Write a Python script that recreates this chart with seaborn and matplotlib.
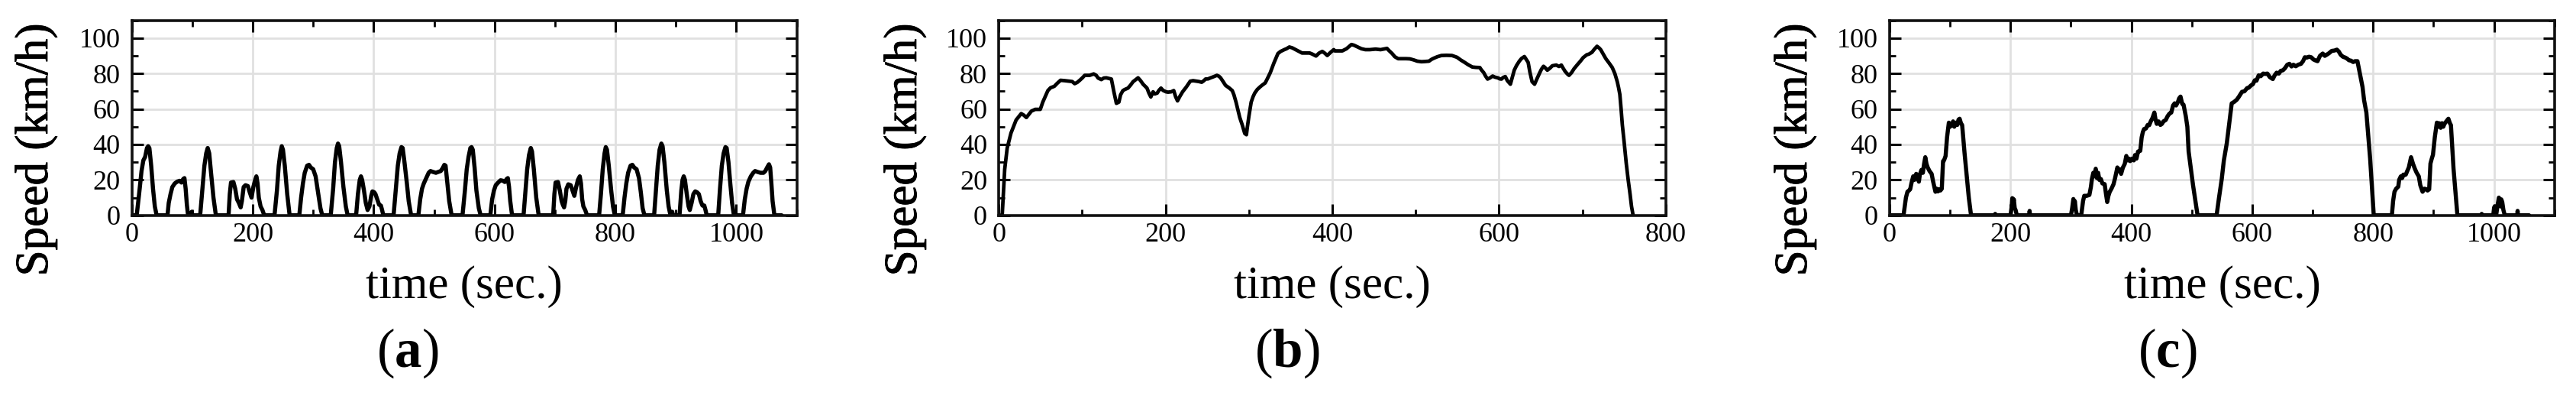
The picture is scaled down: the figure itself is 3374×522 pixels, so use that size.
import matplotlib
matplotlib.use("Agg")
import matplotlib.pyplot as plt
import matplotlib.patheffects as pe
import seaborn as sns
from matplotlib.ticker import MultipleLocator

# ---------------- data ----------------
panel_labels = ["a", "b", "c"]
x_limits = [1100, 800, 1100]
x_label = "time (sec.)"
y_label = "Speed (km/h)"

# (a) repeated urban cycle
time_a = [
    0, 8, 12, 16, 19, 22, 25, 27, 29, 32, 35, 38, 41,
    59, 61, 64, 67, 71, 75, 79, 82, 85, 87, 89, 91, 93,
    98, 99, 100,
    113, 116, 120, 123, 125.5, 128, 131, 135, 139,
    160, 162, 164, 168, 171, 174, 177, 180, 182, 185, 188, 192, 195, 198, 201, 204, 206, 208, 210, 213, 216, 219,
    236, 240, 243, 246, 248, 250, 253, 257, 261,
    277, 280, 283, 286, 290, 293, 296, 300, 304, 308, 312, 315,
    329, 333, 336, 339, 341, 343, 346, 350, 354, 357,
    371, 374, 377, 379, 381, 384, 387, 390, 393, 396, 398, 401, 403, 406, 409, 412, 414, 416,
    433, 437, 440, 443, 446, 448, 451, 455, 458, 462,
    474, 477, 480, 483, 487, 491, 494, 498, 503, 507, 511, 514, 517, 519, 522, 525, 529,
    547, 551, 554, 557, 560, 562, 564, 567, 570, 574, 577,
    593, 596, 599, 602, 606, 610, 614, 617, 620, 622, 624, 626, 629,
    648, 651, 654, 657, 660, 662, 665, 669, 673,
    697, 699, 701, 705, 708, 711, 713, 715, 717, 719, 722, 726, 729, 732, 735, 738, 741, 743, 745, 747, 750, 753,
    773, 776, 779, 782, 784, 786, 789, 793, 796, 799,
    812, 815, 818, 821, 825, 828, 831, 835, 839, 842, 845, 848,
    864, 867, 870, 873, 876, 878, 881, 885, 888, 891,
    893, 894, 895,
    906, 909, 911, 913, 915, 918, 921, 923, 926, 929, 932, 935, 938, 941, 944, 947, 949, 951,
    970, 973, 976, 979, 982, 984, 987, 990, 993, 996,
    1011, 1014, 1017, 1020, 1024, 1028, 1031, 1035, 1040, 1045, 1048, 1051, 1054, 1056, 1058, 1060, 1063, 1075,
]
speed_a = [
    0, 0, 12, 25, 31, 33, 38, 39, 38, 28, 15, 5, 0,
    0, 7, 12, 16, 18, 19, 19.5, 18.5, 20.5, 21, 15, 6, 0,
    0, 2, 0,
    0, 12, 28, 35, 38, 35, 24, 10, 0,
    0, 12, 18.5, 18.8, 15, 9, 7, 4.5, 8, 16, 17, 16.5, 13, 10, 16, 20, 22, 18, 10, 5, 3, 0,
    0, 14, 28, 36, 39, 37, 28, 12, 0,
    0, 10, 18, 24, 28, 28.5, 27, 26, 22, 13, 4, 0,
    0, 15, 30, 38, 40.5, 39, 30, 16, 5, 0,
    0, 12, 20, 22, 20, 14, 7, 3, 5, 11, 13.5, 13, 12, 9, 6, 5.5, 3, 0,
    0, 16, 28, 35, 38.5, 38, 30, 18, 8, 0,
    0, 9, 15, 18, 21, 24, 25, 24.5, 24, 24.5, 25, 26.5, 28.5, 28, 18, 8, 0,
    0, 14, 26, 33, 38, 38.5, 37, 27, 14, 4, 0,
    0, 9, 14, 17, 18.5, 19.8, 19.5, 18.8, 20.5, 21, 16, 8, 0,
    0, 13, 26, 34, 38, 36, 26, 10, 0,
    0, 12, 18.5, 18.8, 14, 8, 6, 4.5, 8, 15, 17.5, 17, 14, 11, 16, 20, 22, 18, 9, 5, 3, 0,
    0, 12, 26, 35, 38.5, 37, 28, 14, 5, 0,
    0, 10, 18, 24, 28, 28.5, 27, 26, 21, 13, 4, 0,
    0, 14, 28, 37, 40.5, 39, 30, 14, 5, 0,
    0, 2, 0,
    0, 14, 20, 22, 20, 12, 5, 3, 7, 12, 13.5, 13, 12, 8, 5.5, 5.5, 3, 0,
    0, 15, 28, 35, 38.5, 38, 30, 18, 7, 0,
    0, 9, 15, 19, 22, 24, 25, 24.5, 24, 24, 25, 27, 28.8, 27, 18, 8, 0, 0,
]

# (b) highway cycle
time_b = [
    0, 4, 7, 10, 14.6, 20.7, 26.8, 30, 33, 36, 39, 43.6, 49.7, 52.7, 58.8, 62, 66.5, 70, 74, 79,
    84.8, 88, 90.9, 94, 97, 100, 103, 109, 113.7, 116.8, 119, 122.9, 126, 129, 135, 138, 141, 144, 146, 148.8,
    151, 154.9, 158, 161, 164, 167, 170, 173, 177.7, 180, 182.3, 185, 187, 190, 192, 194.5, 197, 200.6, 203, 206.7,
    209.8, 212, 214.3, 217, 220.4, 225, 229.6, 233, 237, 240, 243.3, 246, 247.9, 251, 254, 258, 261.6, 264, 266, 269,
    272, 276, 280, 282, 284.5, 287, 289, 292, 295, 297, 298, 300, 302.7, 305, 307, 310, 313.4, 316, 319.5, 322,
    325.6, 330, 334.8, 338, 342.4, 345, 348.5, 352, 356, 360, 363.7, 368, 372.9, 376, 380.5, 384, 388, 391, 394, 398,
    401.8, 403, 408, 412, 417, 423, 426, 430.5, 435, 439.7, 445, 452, 458, 465.6, 468, 471.8, 475, 479, 483, 488.5,
    493, 497.7, 502, 506.9, 511, 516, 519, 522, 526, 531, 537, 543.5, 546, 549.6, 554, 558.8, 563, 568, 572, 577,
    579, 581.7, 584, 586.3, 589, 592.4, 595, 598.5, 601, 603, 605, 607.6, 610, 613.7, 616, 618.3, 621, 624.4, 627, 630.5,
    632, 635, 637, 639.7, 642.7, 645, 648.9, 651, 653.4, 655, 658, 661, 664, 668.7, 672, 674.8, 677, 679.4, 682, 684,
    687, 690, 694, 697.7, 701, 705.3, 708, 711.5, 714, 717.6, 720, 722, 725, 728.2, 732, 735.9, 739, 741.9, 743.5, 745,
    746.5, 748, 750, 752.7, 755, 757.3, 759, 760.9,
]
speed_b = [
    0, 0, 26, 38, 46.5, 53.8, 57.4, 56.5, 55.2, 57, 58.8, 59.8, 59.8, 63.9, 70.4, 72, 72.8, 74.5, 76.2, 76,
    75.7, 75.5, 74.3, 75, 76.2, 77.5, 79, 79, 79.8, 79, 77.5, 76.6, 77.5, 77.6, 76.9, 69.7, 63.2, 63.9, 68, 70.4,
    71, 71.8, 73.5, 75.4, 76.5, 77.6, 76, 74, 71.8, 69, 66.8, 69.7, 68.5, 69, 70.5, 71.8, 70.5, 69.7, 69.5, 69.7,
    70.4, 67, 64.6, 67, 69.7, 72.5, 75.7, 76, 75.7, 75.5, 75.1, 76, 76.9, 77, 77.6, 78.3, 79, 78.5, 77.6, 75.5,
    73.3, 72, 70.4, 68, 63.9, 59, 55.2, 51, 46.2, 45.5, 49.4, 56, 63.9, 67, 69, 71, 72.5, 73.5, 74.7, 77,
    80.5, 86, 91.3, 92.5, 93.5, 94, 95, 94.5, 93.5, 92.5, 91.6, 91.6, 91.6, 91, 89.9, 91.5, 92.5, 91.5, 90.2, 92,
    93.5, 92.8, 92.8, 92.8, 94, 96.4, 96, 95, 94, 93.5, 93.5, 93.8, 93.5, 94.2, 93, 91.3, 89.5, 88.4, 88.4, 88.4,
    88.3, 87.7, 87, 86.7, 86.8, 87, 88, 88.7, 89.5, 90.2, 90.3, 90.2, 89.8, 89.2, 87.7, 86.3, 85, 83.7, 83.5, 83.4,
    82, 80.5, 78.5, 76.9, 77.5, 78.6, 78, 77.6, 77, 76.9, 77.8, 78.3, 76, 74, 78, 81.9, 84.5, 87, 88.5, 89.6,
    88.5, 86.3, 81, 75.4, 74, 76.5, 80.5, 82.5, 84.1, 83.5, 81.9, 83, 84.4, 84.8, 84, 84.8, 83, 81.2, 79.8, 79,
    80.5, 82.7, 85, 87, 89, 90.6, 91, 92, 93.5, 95.4, 94.5, 93.5, 91, 88.4, 86, 83.4, 80, 75.4, 72, 68.2,
    60, 50.9, 42, 29.2, 20, 11.8, 5, 0,
]

# (c) mixed cycle
time_c = [
    0, 23, 27, 29.5, 32, 34, 36, 39, 41, 44, 46, 48.4, 50, 52.6, 55, 57, 59, 61, 63, 66,
    69.5, 72, 74, 75.8, 78, 80, 82, 84, 86.3, 88.4, 90, 92.6, 95, 98, 100, 103, 105, 107, 109.5, 112,
    114, 115.8, 118, 120, 124, 128.4, 131, 134.7,
    174, 174.7, 175.5,
    200, 202, 203, 204, 205.5, 207, 208.4, 210.5,
    231, 231.6, 232.3,
    300, 302, 304, 305, 306.5, 308, 310, 317, 320, 322, 326, 330.5, 333, 334.7, 337, 339, 341, 343, 345, 347,
    349.5, 352, 355.8, 358, 360, 362, 364.2, 367, 370.5, 373, 376.8, 379, 381, 383, 386, 389, 391.6, 394, 396, 398,
    401, 404, 406, 408.4, 411, 414.7, 417, 419, 421, 424, 427, 429.5, 432, 435, 438, 440, 442, 445, 448, 450.5,
    453, 456.8, 460, 463, 466, 469, 471.6, 474, 477, 479, 481.3, 484, 486.3, 490, 492.6, 494.7, 502, 509.5,
    541, 545, 549.5, 553, 557.9, 562, 566, 570, 574.5, 578, 583, 587, 591.5, 594, 597.9, 601, 604.2, 607, 610.6, 614,
    618, 621.2, 625, 629, 634, 637, 640.3, 644, 647, 650.9, 654, 658, 661.5, 665, 668, 672, 676, 680.6, 684, 687,
    690, 694, 697.6, 701, 704, 708, 712, 716.6, 720, 723, 727, 731.5, 736, 740, 743, 746.3, 750, 754, 757, 760,
    763.3, 767, 770, 774, 778, 782.4, 785, 788.8, 795, 801,
    831, 833, 835.3, 838, 841.6, 843, 845.8, 848, 850, 852, 854, 856.3, 859, 862.7, 866, 869, 872, 875.5, 878, 881.8,
    885, 888.4, 890, 892.7, 894.8, 897, 899, 902, 905.4, 907, 909, 911.7, 914, 916, 918, 921, 924.5, 927, 928.7, 933,
    939.4,
    979, 979.6, 980.3, 998.7, 1000, 1001, 1002, 1003.5, 1006, 1008, 1009.3, 1011, 1012, 1013.6, 1015.5, 1017.8,
    1038.5, 1039, 1039.5, 1058,
]
speed_c = [
    0, 0, 10, 13.3, 14, 14.7, 18, 22, 20, 23.4, 22, 19, 23, 25.6, 24, 29, 32.8, 29, 27, 25,
    23.4, 19, 16, 13.3, 15, 13.5, 14.7, 14, 15, 30.6, 31, 33.5, 44, 52.3, 50, 50.9, 53, 50, 52.3, 51,
    54, 54.5, 52, 50.9, 35, 19, 10, 0,
    0, 0.8, 0,
    0, 5, 9.7, 6, 9, 4, 3, 0,
    0, 2.5, 0,
    0, 4, 9.2, 6, 8, 3, 0, 0, 8, 11, 11, 11.5, 16, 20.5, 24, 22, 26.3, 21, 24, 20,
    20.5, 18, 17.6, 12, 7.5, 11, 13.3, 15, 17.6, 21, 27, 25, 26, 23.4, 27, 29, 33.5, 31, 32, 30.6,
    32, 31, 34, 32, 36, 36.4, 44, 47, 48.7, 49, 51, 50.9, 53, 55, 58, 54, 51.6, 53, 51, 51.6,
    53, 53.8, 56, 57.4, 58, 62, 63.2, 62, 64, 66, 67, 63, 62.4, 56, 50, 36, 17, 0,
    0, 10, 20.5, 31, 40.8, 52, 63.2, 64, 65.3, 67, 69.7, 70, 71.8, 72, 73.3, 74, 76.2, 76, 79, 78.5,
    80, 79.8, 80, 78, 76.9, 79, 80.5, 80, 81.5, 81.9, 83, 85, 85.5, 84, 85, 84.1, 85, 85.5, 87, 89.2,
    89, 89.5, 89.2, 88, 87.5, 87, 90, 91.3, 90, 90.6, 91.5, 92.8, 93, 93.5, 92.5, 90.6, 89.5, 89, 88.4, 87.5,
    87.3, 86.5, 87, 87, 80, 72.5, 65, 58, 32, 0,
    0, 8, 13.3, 15, 16.2, 20, 22, 21, 23, 22.7, 23, 24.9, 27, 32.8, 29, 26.3, 24, 22, 17, 13.3,
    15, 14.7, 14, 14.7, 29.2, 32, 34.2, 44, 52.3, 50, 52, 49.4, 52, 50, 51.6, 53, 54.5, 52, 50.9, 26.3,
    0,
    0, 0.8, 0, 0, 4, 5, 0, 0, 6, 10, 9, 5, 9, 7.5, 3, 0,
    0, 2.5, 0, 0,
]

times = [time_a, time_b, time_c]
speeds = [speed_a, speed_b, speed_c]

# ---------------- style ----------------
sns.set_theme(style="white")
plt.rcParams["font.family"] = ["Liberation Serif", "DejaVu Serif"]
plt.rcParams["mathtext.fontset"] = "custom"
plt.rcParams["mathtext.rm"] = "Liberation Serif"
plt.rcParams["mathtext.bf"] = "Liberation Serif:bold"

W, H = 3374, 522
fig = plt.figure(figsize=(W / 100, H / 100), dpi=100)
fig.patch.set_facecolor("white")

axes_px = [(172.7, 1043.6), (1308.3, 2181.7), (2475.0, 3345.8)]
top_px, bottom_px = 26.7, 281.7
line_widths = [3.9, 3.4, 3.9]
caption_x_px = [534, 1686, 2839]
ylabel_x_px = [47, 1185, 2351]
ylabel_center_px = 196

for i in range(3):
    l, r = axes_px[i]
    ax = fig.add_axes([l / W, (H - bottom_px) / H, (r - l) / W, (bottom_px - top_px) / H])
    sns.lineplot(x=times[i], y=speeds[i], ax=ax, color="black",
                 linewidth=line_widths[i], estimator=None, sort=False)
    ax.set_xlim(0, x_limits[i])
    ax.set_ylim(0, 110)
    ax.xaxis.set_major_locator(MultipleLocator(200))
    ax.xaxis.set_minor_locator(MultipleLocator(100))
    ax.yaxis.set_major_locator(MultipleLocator(20))
    ax.yaxis.set_minor_locator(MultipleLocator(10))
    ax.grid(True, which="major", color="#e0e0e0", linewidth=2.0)
    ax.set_axisbelow(True)
    ax.tick_params(which="major", direction="in", length=11, width=2.2,
                   top=True, right=True, bottom=True, left=True,
                   labelsize=26, colors="black")
    ax.tick_params(axis="y", which="major", pad=11)
    ax.tick_params(axis="x", which="major", pad=7)
    ax.tick_params(which="minor", direction="in", length=6, width=2.0,
                   top=True, right=True, bottom=True, left=True, colors="black")
    for sp in ax.spines.values():
        sp.set_linewidth(2.6)
        sp.set_color("#111111")
    ax.set_facecolor("white")

    ax_h = bottom_px - top_px
    ax_w = r - l
    ax.set_xlabel(x_label, fontsize=44, color="black")
    ax.xaxis.label.set_va("baseline")
    ax.xaxis.set_label_coords(0.5, -(390 - bottom_px) / ax_h)
    ax.set_ylabel(y_label, fontsize=44, color="black")
    ax.yaxis.label.set_va("center")
    ax.yaxis.label.set_path_effects([pe.withStroke(linewidth=0.6, foreground="black")])
    ax.yaxis.set_label_coords((ylabel_x_px[i] - l) / ax_w,
                              (bottom_px - ylabel_center_px) / ax_h)

    fig.text(caption_x_px[i] / W, (H - 480) / H,
             "(" + r"$\mathbf{" + panel_labels[i] + "}$" + ")",
             ha="center", va="baseline", fontsize=51, color="black")

fig.savefig("out.png", dpi=100, facecolor="white")
